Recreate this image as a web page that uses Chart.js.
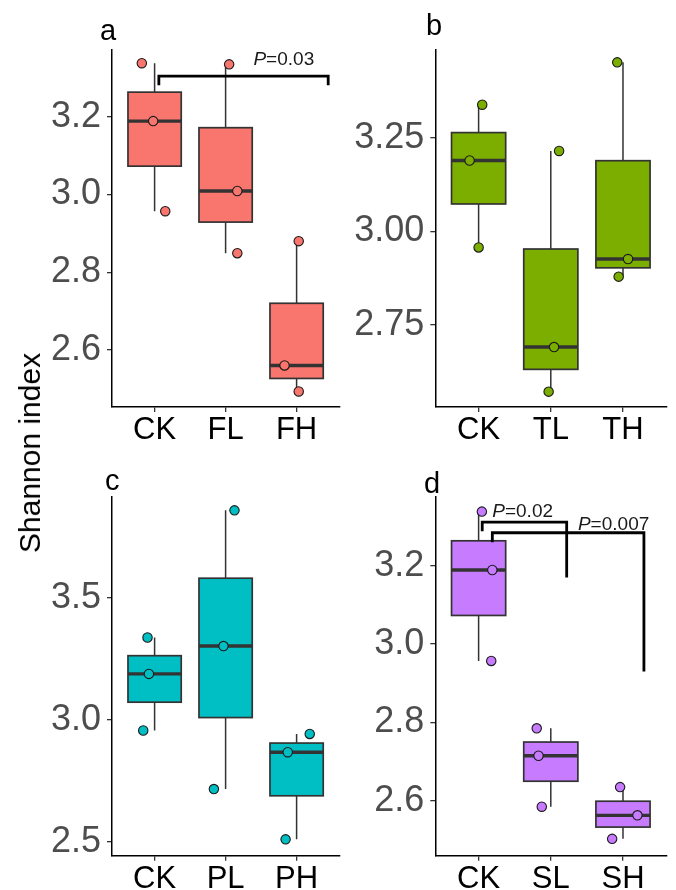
<!DOCTYPE html>
<html>
<head>
<meta charset="utf-8">
<script src="https://cdn.jsdelivr.net/npm/chart.js@4.4.1/dist/chart.umd.min.js"></script>
<style>
  body { margin: 0; background: #fff; }
  #wrap { position: relative; width: 676px; height: 890px; overflow: hidden; font-family: "Liberation Sans", Arial, sans-serif; }
  canvas { position: absolute; }
  .lab { position: absolute; font-size: 29px; line-height: 29px; color: #000; }
  #ytitle { position: absolute; left: 30px; top: 453px; font-size: 30px; line-height: 30px; white-space: nowrap;
            transform: translate(-50%, -50%) rotate(-90deg); color: #000; }
</style>
</head>
<body>
<div id="wrap">
  <canvas id="pa" width="345" height="460" style="left:0;top:0"></canvas>
  <canvas id="pb" width="338" height="460" style="left:338px;top:0"></canvas>
  <canvas id="pc" width="345" height="445" style="left:0;top:445px"></canvas>
  <canvas id="pd" width="338" height="445" style="left:338px;top:445px"></canvas>
  <div class="lab" style="left:100px;top:16px">a</div>
  <div class="lab" style="left:426px;top:11px">b</div>
  <div class="lab" style="left:105px;top:466px">c</div>
  <div class="lab" style="left:424px;top:469px">d</div>
  <div id="ytitle">Shannon index</div>
</div>
<script>
// Shannon index, three replicates per treatment (CK is the shared control)
const catsA = ["CK", "FL", "FH"];
const catsB = ["CK", "TL", "TH"];
const catsC = ["CK", "PL", "PH"];
const catsD = ["CK", "SL", "SH"];

const ck = [3.338, 3.189, 2.957];
const valsA = [ck, [3.335, 3.009, 2.849], [2.880, 2.560, 2.493]];
const valsB = [ck, [3.2145, 2.691, 2.572], [3.451, 2.926, 2.879]];
const valsC = [ck, [3.859, 3.303, 2.717], [2.943, 2.868, 2.511]];
const valsD = [ck, [2.785, 2.715, 2.585], [2.635, 2.563, 2.503]];

// horizontal jitter of each replicate, in category units
const jitA = [[-0.18, -0.02, 0.15], [0.05, 0.165, 0.165], [0.03, -0.17, 0.03]];
const jitB = [[0.05, -0.125, 0.0], [0.115, 0.045, -0.03], [-0.08, 0.07, -0.06]];
const jitC = [[-0.1, -0.08, -0.16], [0.125, -0.03, -0.165], [0.185, -0.125, -0.155]];
const jitD = [[0.045, 0.19, 0.175], [-0.195, -0.17, -0.125], [-0.04, 0.2, -0.15]];

const ticksA = [2.6, 2.8, 3.0, 3.2];
const ticksB = [2.75, 3.0, 3.25];
const ticksC = [2.5, 3.0, 3.5];
const ticksD = [2.6, 2.8, 3.0, 3.2];

// significance annotations
const sigA = [{ x1: 1.06, x2: 3.445, y: 3.305, t1: 3.281, t2: 3.281, p: "0.03", tx: 2.82, ty: 3.333 }];
const sigD = [
  { x1: 1.05, x2: 2.22, y: 3.311, t1: 3.288, t2: 3.170, p: "0.02", tx: 1.61, ty: 3.325 },
  { x1: 1.19, x2: 3.29, y: 3.284, t1: 3.260, t2: 2.930, p: "0.007", tx: 2.87, ty: 3.291 }
];

const FONT = '"Liberation Sans", Arial, sans-serif';

function quant(arr, q) {
  const s = [...arr].sort((a, b) => a - b);
  const h = (s.length - 1) * q, lo = Math.floor(h);
  return s[lo] + (h - lo) * ((s[lo + 1] ?? s[lo]) - s[lo]);
}

const boxPlugin = {
  id: "boxes",
  beforeDatasetsDraw(chart, args, opts) {
    const { ctx } = chart;
    const xs = chart.scales.x, ys = chart.scales.y;
    ctx.save();
    opts.vals.forEach((v, i) => {
      const c = i + 1;
      const lo = Math.min(...v), hi = Math.max(...v);
      const q1 = quant(v, 0.25), md = quant(v, 0.5), q3 = quant(v, 0.75);
      const xc = xs.getPixelForValue(c);
      const xl = xs.getPixelForValue(c - 0.375), xr = xs.getPixelForValue(c + 0.375);
      ctx.strokeStyle = "#333333";
      ctx.lineWidth = 1.5;
      ctx.beginPath();
      ctx.moveTo(xc, ys.getPixelForValue(hi)); ctx.lineTo(xc, ys.getPixelForValue(q3));
      ctx.moveTo(xc, ys.getPixelForValue(lo)); ctx.lineTo(xc, ys.getPixelForValue(q1));
      ctx.stroke();
      const yt = ys.getPixelForValue(q3), yb = ys.getPixelForValue(q1);
      ctx.fillStyle = opts.color;
      ctx.lineWidth = 1.7;
      ctx.fillRect(xl, yt, xr - xl, yb - yt);
      ctx.strokeRect(xl, yt, xr - xl, yb - yt);
      ctx.lineWidth = 3.4;
      ctx.beginPath();
      const ym = ys.getPixelForValue(md);
      ctx.moveTo(xl, ym); ctx.lineTo(xr, ym);
      ctx.stroke();
    });
    ctx.restore();
  },
  afterDatasetsDraw(chart, args, opts) {
    const { ctx } = chart;
    const xs = chart.scales.x, ys = chart.scales.y;
    ctx.save();
    (opts.sig || []).forEach(s => {
      const x1 = xs.getPixelForValue(s.x1), x2 = xs.getPixelForValue(s.x2);
      ctx.strokeStyle = "#000";
      ctx.lineWidth = 2.8;
      ctx.lineJoin = "miter";
      ctx.beginPath();
      ctx.moveTo(x1, ys.getPixelForValue(s.t1));
      ctx.lineTo(x1, ys.getPixelForValue(s.y));
      ctx.lineTo(x2, ys.getPixelForValue(s.y));
      ctx.lineTo(x2, ys.getPixelForValue(s.t2));
      ctx.stroke();
      ctx.fillStyle = "#1a1a1a";
      ctx.textBaseline = "alphabetic";
      ctx.textAlign = "left";
      const fi = "italic 19px " + FONT, fn = "19px " + FONT;
      ctx.font = fi; const w1 = ctx.measureText("P").width;
      ctx.font = fn; const w2 = ctx.measureText("=" + s.p).width;
      const x0 = xs.getPixelForValue(s.tx) - (w1 + w2) / 2, yb = ys.getPixelForValue(s.ty);
      ctx.font = fi; ctx.fillText("P", x0, yb);
      ctx.font = fn; ctx.fillText("=" + s.p, x0 + w1, yb);
    });
    ctx.restore();
  }
};

function panel(id, cats, vals, jit, ticks, dec, yMin, yMax, color, sig, pad, xh) {
  const pts = [];
  vals.forEach((v, i) => v.forEach((y, j) => pts.push({ x: i + 1 + jit[i][j], y })));
  return new Chart(document.getElementById(id), {
    type: "scatter",
    data: {
      datasets: [{
        data: pts,
        backgroundColor: color,
        borderColor: "#1a1a1a",
        borderWidth: 1.1,
        pointRadius: 4.7,
        clip: false
      }]
    },
    options: {
      responsive: false,
      animation: false,
      devicePixelRatio: 1,
      layout: { padding: pad },
      plugins: {
        legend: { display: false },
        tooltip: { enabled: false },
        boxes: { vals, color, sig }
      },
      scales: {
        x: {
          type: "linear", min: 0.4, max: 3.6,
          afterBuildTicks: s => { s.ticks = [1, 2, 3].map(v => ({ value: v })); },
          afterFit: s => { s.height = xh; },
          grid: { drawOnChartArea: false, drawTicks: true, tickLength: 5, color: "#333", lineWidth: 1.3 },
          border: { display: true, color: "#000", width: 1.5 },
          ticks: { color: "#000", font: { family: FONT, size: 31 }, padding: 0, maxRotation: 0,
                   callback: v => cats[v - 1] }
        },
        y: {
          min: yMin, max: yMax,
          afterBuildTicks: s => { s.ticks = ticks.map(v => ({ value: v })); },
          afterFit: s => { s.width = 90; },
          grid: { drawOnChartArea: false, drawTicks: true, tickLength: 5, color: "#333", lineWidth: 1.3 },
          border: { display: true, color: "#000", width: 1.5 },
          ticks: { color: "#4d4d4d", font: { family: FONT, size: 36 }, padding: 6,
                   callback: v => Number(v).toFixed(dec) }
        }
      }
    },
    plugins: [boxPlugin]
  });
}

panel("pa", catsA, valsA, jitA, ticksA, 1, 2.453, 3.372, "#F8766D", sigA, { left: 22, top: 50, right: 1.5, bottom: 8 }, 45);
panel("pb", catsB, valsB, jitB, ticksB, 2, 2.531, 3.484, "#7CAE00", [], { left: 7.3, top: 50, right: 9.7, bottom: 8 }, 45);
panel("pc", catsC, valsC, jitC, ticksC, 1, 2.444, 3.915, "#00BFC4", [], { left: 22, top: 51.7, right: 1.5, bottom: 0 }, 34.3);
panel("pd", catsD, valsD, jitD, ticksD, 1, 2.460, 3.376, "#C77CFF", sigD, { left: 7.3, top: 51.7, right: 9.7, bottom: 0 }, 34.3);
</script>
</body>
</html>
